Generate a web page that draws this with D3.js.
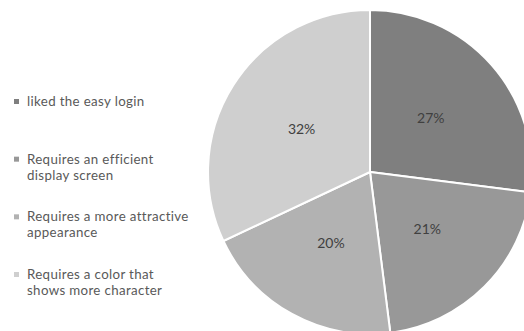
<!DOCTYPE html>
<html lang="en">
<head>
    <meta charset="UTF-8">
    <title>Pie</title>
    <script src="https://d3js.org/d3.v7.min.js"></script>
    <style>
        body { margin: 0; background: #fff; }
        text { font-family: Lato, "Open Sans", sans-serif; }
    </style>
</head>
<body>
<svg width="524" height="331"></svg>
<script>
    // Data
    const categories = [
        "liked the easy login",
        "Requires an efficient display screen",
        "Requires a more attractive appearance",
        "Requires a color that shows more character"
    ];
    const values = [27, 21, 20, 32];
    const legendLines = [
        ["liked the easy login"],
        ["Requires an efficient", "display screen"],
        ["Requires a more attractive", "appearance"],
        ["Requires a color that", "shows more character"]
    ];
    const colors = ["#7f7f7f", "#989898", "#b2b2b2", "#cfcfcf"];

    const svg = d3.select("svg");
    const cx = 370, cy = 172, radius = 162;

    const total = d3.sum(values);
    const data = values.map((v, i) => ({name: categories[i], value: v, i: i}));

    const pie = d3.pie().value(d => d.value).sort(null);
    const arc = d3.arc().innerRadius(0).outerRadius(radius);
    const labelArc = d3.arc().innerRadius(radius * 0.5).outerRadius(radius * 0.5);

    const g = svg.append("g").attr("transform", "translate(" + cx + "," + cy + ")");

    g.selectAll("path")
        .data(pie(data))
        .join("path")
        .attr("d", arc)
        .attr("fill", d => colors[d.data.i])
        .attr("stroke", "#fff")
        .attr("stroke-width", 2);

    g.selectAll("text")
        .data(pie(data))
        .join("text")
        .attr("transform", d => "translate(" + labelArc.centroid(d) + ")")
        .attr("text-anchor", "middle")
        .attr("dy", "0.35em")
        .attr("font-size", 14)
        .attr("fill", "#404040")
        .text(d => Math.round(d.data.value / total * 100) + "%");

    // Legend
    const legendY = d3.scaleLinear().domain([0, 3]).range([106, 279]);
    const legend = svg.append("g");
    const item = legend.selectAll("g")
        .data(legendLines)
        .join("g")
        .attr("transform", (d, i) => "translate(0," + legendY(i) + ")");

    item.append("rect")
        .attr("x", 14)
        .attr("y", -7)
        .attr("width", 5)
        .attr("height", 5)
        .attr("fill", (d, i) => colors[i]);

    item.selectAll("text")
        .data(d => d)
        .join("text")
        .attr("x", 27)
        .attr("y", (d, j) => j * 16)
        .attr("font-size", 13.3)
        .attr("letter-spacing", 0.35)
        .attr("fill", "#595959")
        .text(d => d);
</script>
</body>
</html>
